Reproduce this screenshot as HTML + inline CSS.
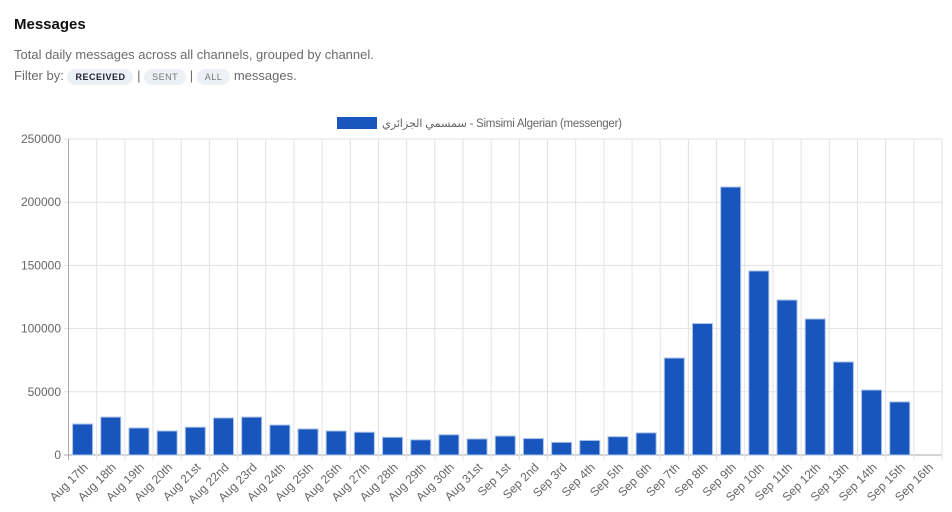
<!DOCTYPE html>
<html><head><meta charset="utf-8"><style>
body{margin:0;width:952px;height:512px;background:#fff;font-family:"Liberation Sans",sans-serif;overflow:hidden}
h1{position:absolute;left:14px;top:16px;margin:0;font-size:15px;font-weight:bold;color:#111}
.p{position:absolute;left:14px;font-size:13px;color:#6b6b6b}
.b{display:inline-block;background:#edf0f4;border-radius:10px;font-size:9px;padding:3px 8px;letter-spacing:.5px;color:#777}
</style></head><body>
<h1>Messages</h1>
<div class="p" style="top:47px">Total daily messages across all channels, grouped by channel.</div>
<div class="p" style="top:68px">Filter by: <span class="b" style="color:#223;font-weight:bold">RECEIVED</span> | <span class="b">SENT</span> | <span class="b">ALL</span> messages.</div>
<svg id="s" width="952" height="512" style="position:absolute;left:0;top:0" font-family="Liberation Sans, Noto Sans CJK SC, DejaVu Sans, sans-serif"></svg>
<script>
const s=document.getElementById('s');
const v=[24.5,30,21.4,19,22,29.3,30,23.7,20.6,19,18,14,12,16,12.7,15,13,10,11.5,14.5,17.5,76.7,104,212,145.6,122.6,107.6,73.6,51.4,42,0];
const lab=["Aug 17th","Aug 18th","Aug 19th","Aug 20th","Aug 21st","Aug 22nd","Aug 23rd","Aug 24th","Aug 25th","Aug 26th","Aug 27th","Aug 28th","Aug 29th","Aug 30th","Aug 31st","Sep 1st","Sep 2nd","Sep 3rd","Sep 4th","Sep 5th","Sep 6th","Sep 7th","Sep 8th","Sep 9th","Sep 10th","Sep 11th","Sep 12th","Sep 13th","Sep 14th","Sep 15th","Sep 16th"];
let h='';const x0=68.5,w=(942-68.5)/31,y0=455,k=316/250;
for(let i=0;i<=5;i++){let y=y0-i*50*k;h+=`<line x1="64" x2="942" y1="${y}" y2="${y}" stroke="${i?'#e2e2e2':'#aaa'}"/><text x="61" y="${y+4}" text-anchor="end" font-size="12" fill="#666">${i*50000}</text>`;}
for(let i=0;i<=31;i++){let x=x0+i*w;h+=`<line x1="${x}" x2="${x}" y1="139" y2="460" stroke="${i?'#e2e2e2':'#aaa'}"/>`;}
v.forEach((d,i)=>{let c=x0+(i+.5)*w,bh=d*k;if(d)h+=`<rect x="${c-10}" y="${y0-bh}" width="20" height="${bh}" fill="#1856bd" stroke="#a9c1e8" stroke-width="1"/>`;
h+=`<text transform="translate(${c+6},468) rotate(-45)" text-anchor="end" font-size="12" fill="#666">${lab[i]}</text>`;});
h+=`<rect x="337" y="117" width="40" height="12" fill="#1856bd"/><text x="382" y="127" font-size="11.5" textLength="240" fill="#666">سمسمي الجزائري - Simsimi Algerian (messenger)</text>`;
s.innerHTML=h;
</script>
</body></html>
